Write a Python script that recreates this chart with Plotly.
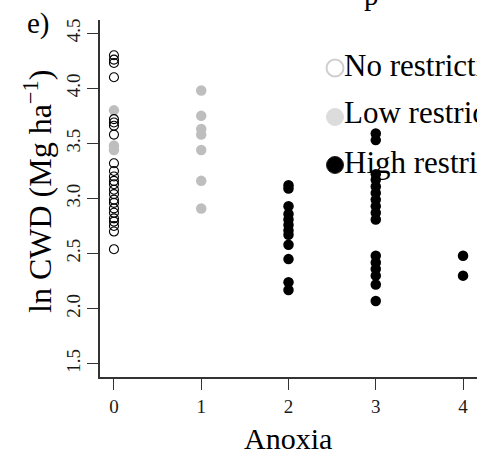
import plotly.graph_objects as go

# ---- data ----
no_x = [0] * 24
no_y = [4.30, 4.26, 4.23, 4.10, 3.72, 3.69, 3.66, 3.58, 3.32, 3.25, 3.20, 3.16,
        3.13, 3.08, 3.04, 2.99, 2.96, 2.91, 2.87, 2.82, 2.79, 2.75, 2.70, 2.54]

low_x = [0, 0, 0, 1, 1, 1, 1, 1, 1, 1]
low_y = [3.80, 3.48, 3.44, 3.98, 3.75, 3.63, 3.58, 3.44, 3.16, 2.91]

high_x = [2] * 12 + [3] * 16 + [4] * 2
high_y = [3.12, 3.09, 2.93, 2.86, 2.81, 2.76, 2.71, 2.67, 2.58, 2.45, 2.24, 2.17,
          3.59, 3.53, 3.22, 3.17, 3.11, 3.05, 2.99, 2.93, 2.87, 2.81, 2.48, 2.42,
          2.36, 2.30, 2.22, 2.07,
          2.48, 2.30]

x_ticks = [0, 1, 2, 3, 4]
y_ticks = [1.5, 2.0, 2.5, 3.0, 3.5, 4.0, 4.5]
y_tick_text = ["1.5", "2.0", "2.5", "3.0", "3.5", "4.0", "4.5"]
legend_labels = ["No restriction", "Low restriction", "High restriction"]

FONT = "Liberation Serif, Times New Roman, serif"
W, H = 477, 461
L, R, T, B = 100, 0, 20, 84
PW, PH = W - L - R, H - T - B


def px_x(px):
    return (px - L) / PW


def px_y(py):
    return (H - B - py) / PH


fig = go.Figure()
fig.add_trace(go.Scatter(x=low_x, y=low_y, mode="markers",
                         marker=dict(symbol="circle", size=10.5, color="#bebebe"),
                         showlegend=False))
fig.add_trace(go.Scatter(x=no_x, y=no_y, mode="markers",
                         marker=dict(symbol="circle-open", size=9, color="black",
                                     line=dict(width=1.1)),
                         showlegend=False))
fig.add_trace(go.Scatter(x=high_x, y=high_y, mode="markers",
                         marker=dict(symbol="circle", size=10.5, color="black"),
                         showlegend=False))

axis_common = dict(showline=True, linecolor="#333", linewidth=1.5, ticks="outside",
                   ticklen=11, tickwidth=1.3, tickcolor="#333", showgrid=False,
                   zeroline=False, mirror=False,
                   tickfont=dict(family=FONT, size=19, color="#1a1a1a"))

fig.update_xaxes(range=[-0.16, 4.16], tickvals=x_ticks, **axis_common)
fig.update_yaxes(range=[1.38, 4.62], tickvals=y_ticks, ticktext=y_tick_text,
                 tickangle=-90, **axis_common)

annotations = [
    dict(text="e)", x=px_x(39), y=px_y(24), font=dict(size=29)),
    dict(text="ln CWD (Mg ha<sup>\u22121</sup>)", x=px_x(38), y=px_y(192),
         textangle=-90, font=dict(size=32)),
    dict(text="Anoxia", x=px_x(288), y=px_y(438), font=dict(size=30)),
    dict(text="p", x=px_x(371), y=px_y(13), yanchor="bottom", font=dict(size=29)),
]
leg_y = [65, 113, 162]
for lab, ly in zip(legend_labels, leg_y):
    annotations.append(dict(text=lab, x=px_x(342), y=px_y(ly), xanchor="left",
                            font=dict(size=31)))
for a in annotations:
    a.setdefault("xanchor", "center")
    a.setdefault("yanchor", "middle")
    a["xref"] = "paper"
    a["yref"] = "paper"
    a["showarrow"] = False
    f = a["font"]
    f["family"] = FONT
    f["color"] = "black"

shapes = []
marker_styles = [
    dict(fillcolor="rgba(0,0,0,0)", line=dict(color="#cfcfcf", width=2)),
    dict(fillcolor="#dcdcdc", line=dict(color="#dcdcdc", width=1)),
    dict(fillcolor="black", line=dict(color="#222", width=1)),
]
marker_y = [68, 117, 165]
for st, my in zip(marker_styles, marker_y):
    shapes.append(dict(type="circle", xref="paper", yref="paper",
                       xsizemode="pixel", ysizemode="pixel",
                       xanchor=px_x(335), yanchor=px_y(my),
                       x0=-8.5, x1=8.5, y0=-8.5, y1=8.5, **st))

fig.update_layout(width=W, height=H, margin=dict(l=L, r=R, t=T, b=B),
                  paper_bgcolor="white", plot_bgcolor="white",
                  annotations=annotations, shapes=shapes,
                  font=dict(family=FONT))

fig.write_html("out.html")
